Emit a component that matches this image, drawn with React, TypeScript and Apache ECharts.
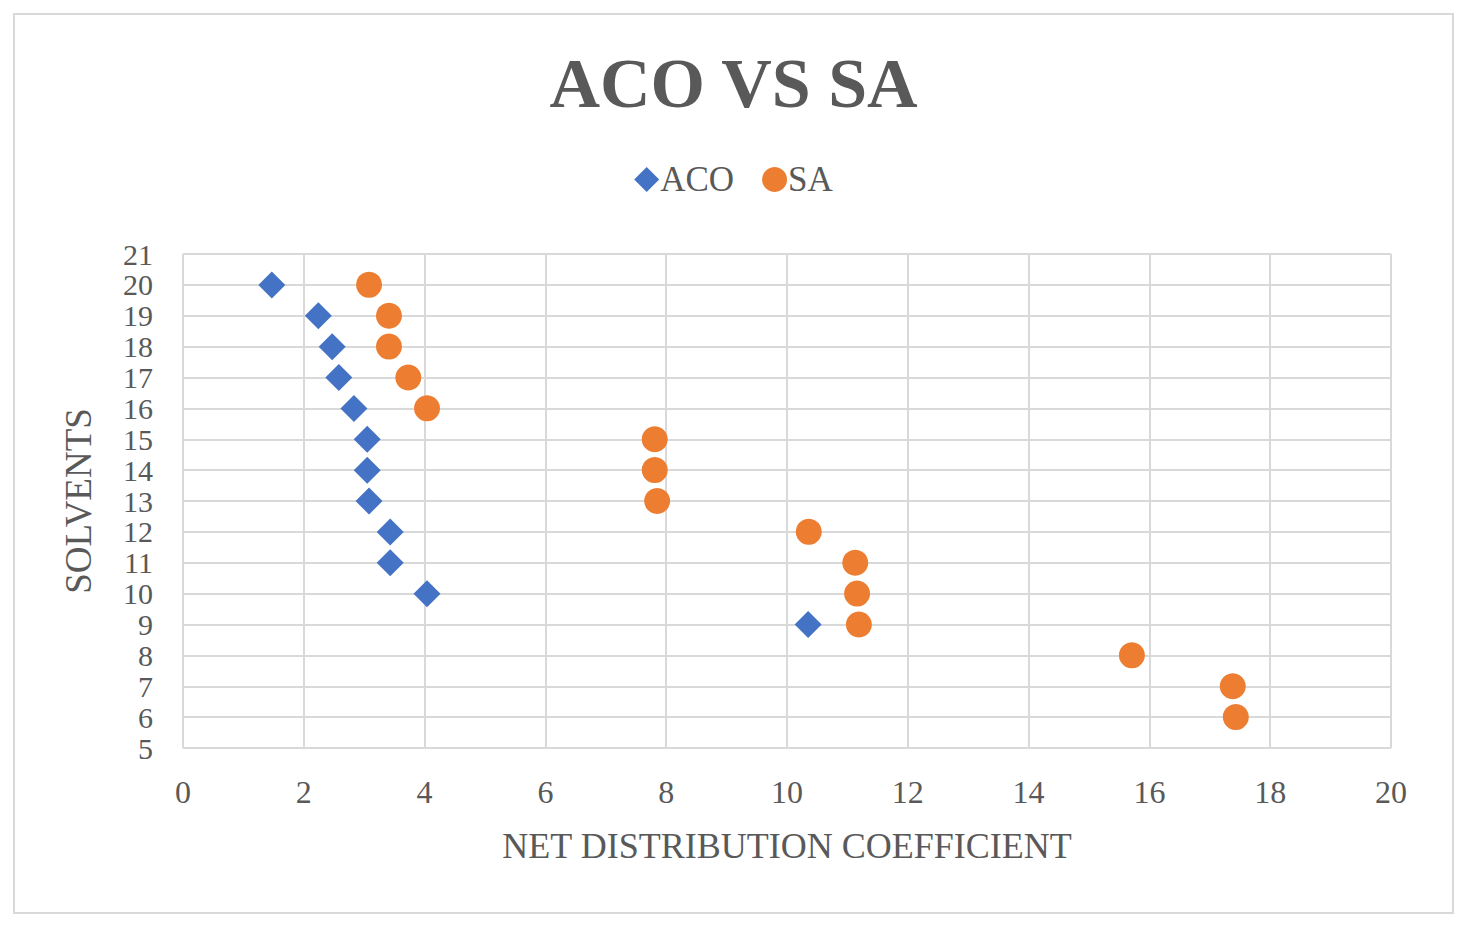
import React, { useEffect, useRef } from "react";
import * as echarts from "echarts";

const solvents = [20, 19, 18, 17, 16, 15, 14, 13, 12, 11, 10, 9];
const acoValues = [1.47, 2.24, 2.47, 2.58, 2.83, 3.05, 3.05, 3.08, 3.43, 3.43, 4.04, 10.35];
const saSolvents = [20, 19, 18, 17, 16, 15, 14, 13, 12, 11, 10, 9, 8, 7, 6];
const saValues = [3.08, 3.41, 3.41, 3.73, 4.04, 7.81, 7.81, 7.85, 10.36, 11.13, 11.16, 11.19, 15.71, 17.38, 17.43];

const FONT = "'Liberation Serif', 'Times New Roman', serif";
const TXT = "#595959";
const GRIDC = "#d9d9d9";

export default function App() {
  const ref = useRef<HTMLDivElement>(null);
  useEffect(() => {
    const chart = echarts.init(ref.current!, null, { renderer: "svg" });
    chart.setOption({
      animation: false,
      backgroundColor: "#ffffff",
      textStyle: { fontFamily: FONT },
      graphic: [
        {
          type: "rect",
          shape: { x: 14, y: 14, width: 1439, height: 899 },
          style: { fill: "none", stroke: GRIDC, lineWidth: 2 },
          silent: true,
        },
      ],
      title: {
        text: "ACO VS SA",
        left: "center",
        top: 43,
        textStyle: { fontFamily: FONT, fontSize: 70, fontWeight: "bold", color: TXT },
      },
      legend: {
        top: 157,
        left: "center",
        itemWidth: 25,
        itemHeight: 25,
        itemGap: 28,
        textStyle: { fontFamily: FONT, fontSize: 35, color: TXT, padding: [0, 0, 0, -4] },
        data: [
          { name: "ACO", icon: "diamond" },
          { name: "SA", icon: "circle" },
        ],
      },
      grid: { left: 183, right: 76, top: 254, bottom: 179, containLabel: false },
      xAxis: {
        type: "value",
        min: 0,
        max: 20,
        interval: 2,
        name: "NET DISTRIBUTION COEFFICIENT",
        nameLocation: "middle",
        nameGap: 80,
        nameTextStyle: { fontFamily: FONT, fontSize: 36, color: TXT },
        axisLine: { show: false },
        axisTick: { show: false },
        axisLabel: { fontFamily: FONT, fontSize: 32, color: TXT, margin: 28 },
        splitLine: { show: true, lineStyle: { color: GRIDC, width: 2 } },
      },
      yAxis: {
        type: "value",
        min: 5,
        max: 21,
        interval: 1,
        name: "SOLVENTS",
        nameLocation: "middle",
        nameGap: 86,
        nameRotate: 90,
        nameTextStyle: { fontFamily: FONT, fontSize: 37, color: TXT },
        axisLine: { show: false },
        axisTick: { show: false },
        axisLabel: {
          fontFamily: FONT,
          fontSize: 30,
          lineHeight: 30,
          color: TXT,
          margin: 30,
          showMinLabel: true,
          showMaxLabel: true,
          hideOverlap: false,
        },
        splitLine: { show: true, lineStyle: { color: GRIDC, width: 2 } },
      },
      series: [
        {
          name: "ACO",
          type: "scatter",
          symbol: "diamond",
          symbolSize: 27,
          itemStyle: { color: "#4472C4", opacity: 1 },
          data: acoValues.map((v, i) => [v, solvents[i]]),
          z: 3,
        },
        {
          name: "SA",
          type: "scatter",
          symbol: "circle",
          symbolSize: 26,
          itemStyle: { color: "#ED7D31", opacity: 1 },
          data: saValues.map((v, i) => [v, saSolvents[i]]),
          z: 2,
        },
      ],
    });
    return () => chart.dispose();
  }, []);
  return (
    <div
      ref={ref}
      style={{ position: "absolute", left: 0, top: 0, width: 1467, height: 927 }}
    />
  );
}
